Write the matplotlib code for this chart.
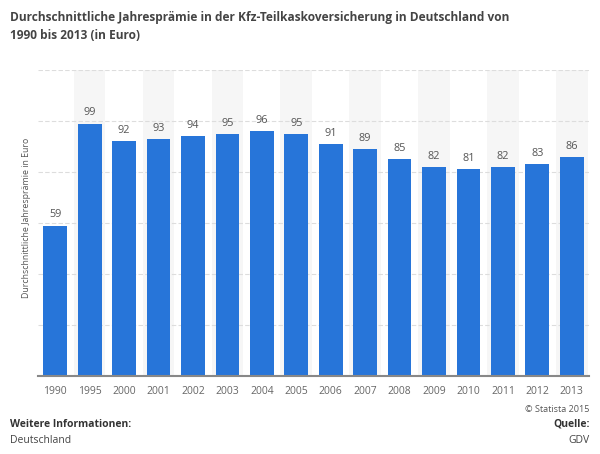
import matplotlib.pyplot as plt
import numpy as np

# values
years = ['1990', '1995', '2000', '2001', '2002', '2003', '2004', '2005',
         '2006', '2007', '2008', '2009', '2010', '2011', '2012', '2013']
premium = [59, 99, 92, 93, 94, 95, 96, 95, 91, 89, 85, 82, 81, 82, 83, 86]

title = ('Durchschnittliche Jahresprämie in der Kfz-Teilkaskoversicherung in Deutschland von\n'
         '1990 bis 2013 (in Euro)')
ylabel = 'Durchschnittliche Jahresprämie in Euro'

plt.rcParams['font.family'] = ['Open Sans', 'DejaVu Sans']

fig = plt.figure(figsize=(6, 4.54), dpi=100)
ax = fig.add_axes([0.0633, 0.1718, 0.9184, 0.674])

x = np.arange(len(years))

# alternating light column shading
for i in x:
    if i % 2 == 1:
        ax.axvspan(i - 0.46, i + 0.46, color='#f6f6f6', zorder=0, lw=0)

ax.bar(x, premium, width=0.69, color='#2775d9', zorder=2)
for xi, v in zip(x, premium):
    ax.text(xi, v + 2.0, str(v), ha='center', va='bottom', fontsize=7.8, color='#555555')

ax.set_ylim(0, 120)
ax.set_xlim(-0.5, len(years) - 0.5)
ax.set_yticks(np.arange(0, 121, 20))
ax.set_yticklabels([])
ax.tick_params(axis='y', length=0)
ax.grid(axis='y', color='#dddddd', linestyle=(0, (4, 2)), linewidth=0.8, zorder=1)
ax.set_xticks(x)
ax.set_xticklabels(years, fontsize=7.5, color='#666666')
ax.tick_params(axis='x', length=0, pad=7)

for s in ['top', 'right', 'left']:
    ax.spines[s].set_visible(False)
ax.spines['bottom'].set_color('#888888')
ax.spines['bottom'].set_linewidth(1.5)
ax.spines['bottom'].set_zorder(3)

fig.text(0.045, 0.52, ylabel, rotation=90, ha='center', va='center',
         fontsize=6.3, color='#555555')

fig.text(0.017, 0.975, title, ha='left', va='top', fontsize=8.6,
         fontweight='bold', color='#444444', linespacing=1.5)

fig.text(0.983, 0.098, '© Statista 2015', ha='right', va='center', fontsize=6.5, color='#555555')
fig.text(0.017, 0.066, 'Weitere Informationen:', ha='left', va='center', fontsize=7.5,
         fontweight='bold', color='#333333')
fig.text(0.017, 0.03, 'Deutschland', ha='left', va='center', fontsize=7.5, color='#444444')
fig.text(0.983, 0.066, 'Quelle:', ha='right', va='center', fontsize=7.5,
         fontweight='bold', color='#333333')
fig.text(0.983, 0.03, 'GDV', ha='right', va='center', fontsize=7.5, color='#444444')

fig.savefig('out.png', dpi=100)
